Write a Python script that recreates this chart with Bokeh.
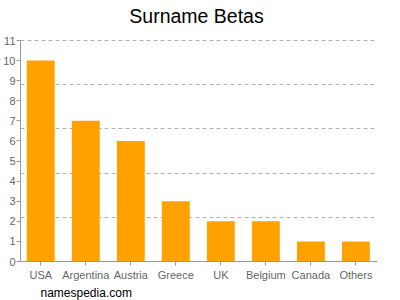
from bokeh.plotting import figure
from bokeh.models import Range1d, FixedTicker, Title, Label, ColumnDataSource
from bokeh.embed import file_html
from bokeh.resources import INLINE

countries = ["USA", "Argentina", "Austria", "Greece", "UK", "Belgium", "Canada", "Others"]
counts = [10, 7, 6, 3, 2, 2, 1, 1]
y_ticks = list(range(0, 12))
grid_ticks = [2.2, 4.4, 6.6, 8.8, 11]
y_max = 11

idx = list(range(len(countries)))
src = ColumnDataSource(dict(x=idx, top=counts))

p = figure(width=400, height=300, output_backend="svg", toolbar_location=None,
           x_range=Range1d(-0.45, len(countries) - 0.52),
           y_range=Range1d(0, y_max * 261 / 221),
           min_border_left=20, min_border_right=23, min_border_top=0, min_border_bottom=39)
p.outline_line_color = None
p.title.visible = False

p.vbar(x="x", top="top", width=0.62, source=src, color="#ffa200", line_color=None)

p.xgrid.grid_line_color = None
p.ygrid.ticker = FixedTicker(ticks=grid_ticks)
p.ygrid.grid_line_color = "#b0b0b0"
p.ygrid.grid_line_dash = "4 3"

p.yaxis.ticker = FixedTicker(ticks=y_ticks)
p.yaxis.bounds = (0, y_max)
p.yaxis.minor_tick_line_color = None
p.yaxis.major_tick_in = 0
p.yaxis.major_tick_out = 4
p.yaxis.axis_line_color = "#999999"
p.yaxis.major_tick_line_color = "#999999"
p.yaxis.major_label_text_color = "#666666"
p.yaxis.major_label_text_font = "Liberation Sans"
p.yaxis.major_label_text_font_size = "11px"
p.yaxis.major_label_standoff = 1

p.xaxis.ticker = FixedTicker(ticks=idx)
p.xaxis.major_label_overrides = {i: c for i, c in enumerate(countries)}
p.xaxis.minor_tick_line_color = None
p.xaxis.major_tick_in = 0
p.xaxis.major_tick_out = 4
p.xaxis.axis_line_color = "#999999"
p.xaxis.major_tick_line_color = "#999999"
p.xaxis.major_label_text_color = "#666666"
p.xaxis.major_label_text_font = "Liberation Sans"
p.xaxis.major_label_text_font_size = "11px"
p.xaxis.major_label_standoff = 3

p.add_layout(Label(x=176, y=246, x_units="screen", y_units="screen", text="Surname Betas",
                   text_font="Liberation Sans", text_font_size="19.5px", text_color="#000000",
                   text_align="center", text_baseline="alphabetic"))
p.add_layout(Title(text="namespedia.com", align="left", offset=20,
                   text_font="Liberation Sans", text_font_size="12px", text_font_style="normal",
                   text_color="#000000", standoff=0), "below")

open("out.html", "w").write(file_html(p, INLINE))
